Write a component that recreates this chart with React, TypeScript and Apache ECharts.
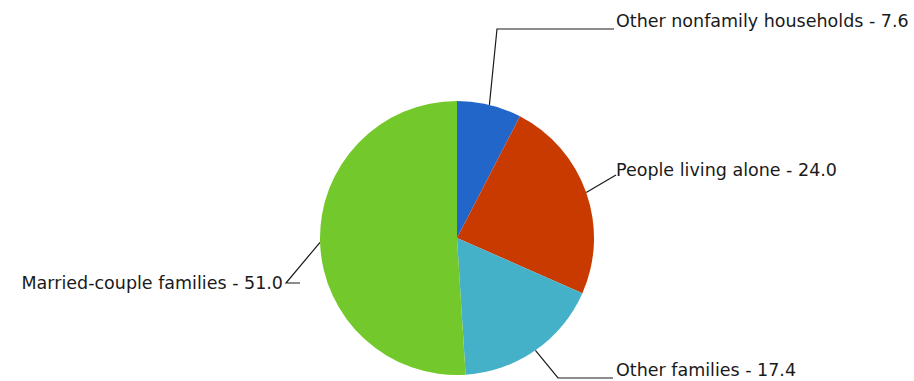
import React, { useEffect, useRef } from "react";
import * as echarts from "echarts";

const categories = [
  "Other nonfamily households",
  "People living alone",
  "Other families",
  "Married-couple families",
];
const values = [7.6, 24.0, 17.4, 51.0];

const colors = ["#2166c8", "#c93a00", "#45b1c8", "#73c92b"];
// label anchor [x, y, align] and line bend/end points (layout only)
const labelAnchors: [number, number, string][] = [
  [616, 21, "left"],
  [616, 170, "left"],
  [616, 370, "left"],
  [283, 283, "right"],
];
const linePoints: number[][][] = [
  [[497, 29], [614, 29]],
  [[616, 175], [616, 175]],
  [[558, 378], [613, 378]],
  [[286, 283], [300, 283]],
];

export default function App() {
  const ref = useRef<HTMLDivElement>(null);
  useEffect(() => {
    if (!ref.current) return;
    const chart = echarts.init(ref.current, null, { renderer: "svg" });
    chart.setOption({
      animation: false,
      backgroundColor: "#ffffff",
      series: [
        {
          type: "pie",
          center: [457, 238],
          radius: [0, 137],
          startAngle: 90,
          clockwise: true,
          avoidLabelOverlap: false,
          data: categories.map((name, i) => ({
            name,
            value: values[i],
            itemStyle: { color: colors[i] },
          })),
          label: {
            show: true,
            position: "outside",
            formatter: (p: any) => `${p.name} - ${Number(p.value).toFixed(1)}`,
            fontFamily: "DejaVu Sans",
            fontSize: 17.5,
            color: "#1a1a1a",
          },
          labelLine: {
            show: true,
            lineStyle: { color: "#1a1a1a", width: 1.2 },
          },
          labelLayout: (params: any) => {
            const i = params.dataIndex;
            const a = labelAnchors[i];
            const start = params.labelLinePoints
              ? params.labelLinePoints[0]
              : [457, 238];
            return {
              x: a[0],
              y: a[1],
              align: a[2],
              verticalAlign: "middle",
              labelLinePoints: [start, linePoints[i][0], linePoints[i][1]],
            };
          },
          emphasis: { disabled: true },
        },
      ],
    });
    return () => chart.dispose();
  }, []);
  return (
    <div
      ref={ref}
      style={{ position: "fixed", left: 0, top: 0, width: 914, height: 381 }}
    />
  );
}
